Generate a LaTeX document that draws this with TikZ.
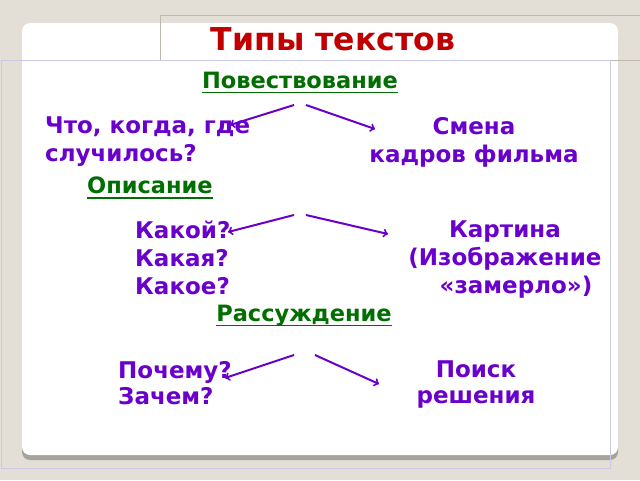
\documentclass[tikz,border=0pt]{standalone}
\usepackage{fontspec}
\setmainfont{DejaVu Sans}
\usetikzlibrary{positioning, arrows}

\definecolor{bgbeige}{HTML}{E4DFD6}
\definecolor{framegrey}{HTML}{BEB8AF}
\definecolor{framelav}{HTML}{CACAE6}
\definecolor{shadowgrey}{HTML}{A6A39D}
\definecolor{titlered}{HTML}{C00000}
\definecolor{headgreen}{HTML}{006E00}
\definecolor{textpurple}{HTML}{6A00CC}

\tikzset{
    title/.style={anchor=north, inner sep=0pt, text=titlered, font=\fontsize{31.5}{36}\selectfont\bfseries},
    heading/.style={inner sep=0pt, text=headgreen, font=\fontsize{22.5}{26}\selectfont\bfseries},
    words/.style={inner sep=0pt, text=textpurple, font=\fontsize{23}{28}\selectfont\bfseries},
    tight/.style={font=\fontsize{23}{26}\selectfont\bfseries},
    pointer/.style={->, textpurple, line width=2pt}
}

\begin{document}
\begin{tikzpicture}[x=1pt, y=-1pt]
    \useasboundingbox (0,0) rectangle (640,480);
    \fill[bgbeige] (0,0) rectangle (640,480);
    % slide panel
    \fill[shadowgrey, rounded corners=8pt] (22,27) rectangle (618,460);
    \fill[white, rounded corners=8pt] (22,23) rectangle (618,455);
    \draw[framegrey] (160,60) -- (160,15) -- (640,15);
    \draw[framegrey] (610,60) -- (640,60);
    \draw[framelav] (1,60) rectangle (610,468);

    \node[title] (t_0) at (333,27) {Типы текстов};

    \node[heading, anchor=north] (h_1) at (300,72) {Повествование};
    \node[words, anchor=north west, align=left] (w_1) at (45,117) {Что, когда, где\\случилось?};
    \node[words, anchor=north, align=center] (c_1) at (474,117) {Смена\\кадров фильма};

    \node[heading, anchor=north west] (h_2) at (87,177) {Описание};
    \node[words, anchor=north west, align=left] (w_2) at (135,221) {Какой?\\Какая?\\Какое?};
    \node[words, anchor=north, align=center] (c_2) at (505,221) {Картина\\(Изображение\\\hspace*{22pt}«замерло»)};

    \node[heading, anchor=north] (h_3) at (304,305) {Рассуждение};
    \node[words, tight, anchor=north west, align=left] (w_3) at (118,361) {Почему?\\Зачем?};
    \node[words, tight, anchor=north, align=center] (c_3) at (476,361) {Поиск\\решения};

    \foreach \h in {h_1, h_2, h_3}
        \draw[headgreen, line width=1.5pt] ([yshift=-4pt]\h.base west) -- ([yshift=-4pt]\h.base east);

    % arrows
    \coordinate (s_1l) at (294,105);
    \coordinate (s_1r) at (306,105);
    \coordinate (e_1l) at (230,125);
    \coordinate (e_1r) at (375,129);
    \coordinate (s_2l) at (294,215);
    \coordinate (s_2r) at (306,215);
    \coordinate (e_2l) at (228,232);
    \coordinate (e_2r) at (388,234);
    \coordinate (s_3l) at (294,355);
    \coordinate (s_3r) at (315,355);
    \coordinate (e_3l) at (225,378);
    \coordinate (e_3r) at (379,384);
    \draw[pointer] (s_1l) -- (e_1l);
    \draw[pointer] (s_1r) -- (e_1r);
    \draw[pointer] (s_2l) -- (e_2l);
    \draw[pointer] (s_2r) -- (e_2r);
    \draw[pointer] (s_3l) -- (e_3l);
    \draw[pointer] (s_3r) -- (e_3r);
\end{tikzpicture}
\end{document}
